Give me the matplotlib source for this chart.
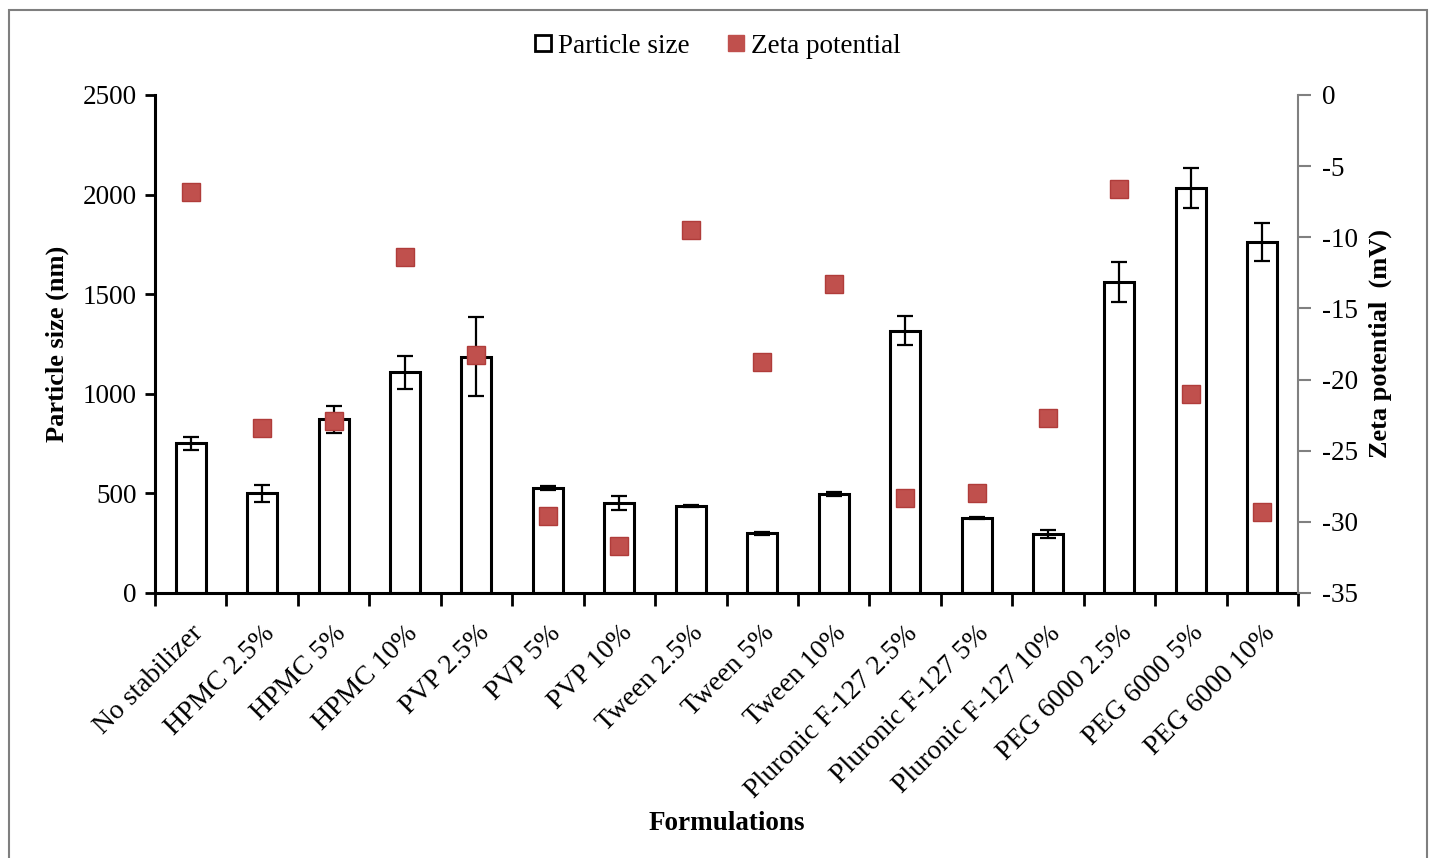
import matplotlib.pyplot as plt
import numpy as np
from matplotlib.lines import Line2D
from matplotlib.patches import Rectangle

plt.rcParams['font.family'] = ['Liberation Serif', 'DejaVu Serif']
plt.rcParams['axes.unicode_minus'] = False

formulations = ['No stabilizer', 'HPMC 2.5%', 'HPMC 5%', 'HPMC 10%',
                'PVP 2.5%', 'PVP 5%', 'PVP 10%', 'Tween 2.5%', 'Tween 5%',
                'Tween 10%', 'Pluronic F-127 2.5%', 'Pluronic F-127 5%',
                'Pluronic F-127 10%', 'PEG 6000 2.5%', 'PEG 6000 5%',
                'PEG 6000 10%']
size_nm = [751, 500, 872, 1108, 1187, 525, 453, 437, 300, 497, 1317, 375,
           296, 1561, 2031, 1761]
size_err = [32, 44, 67, 84, 196, 10, 35, 6, 7, 10, 74, 5, 22, 100, 100, 96]
zeta_mv = [-6.8, -23.4, -22.9, -11.4, -18.3, -29.6, -31.7, -9.5, -18.8,
           -13.3, -28.3, -28.0, -22.7, -6.6, -21.0, -29.3]

fig = plt.figure(figsize=(14.3, 8.58), dpi=100)
ax = fig.add_axes([0.1084, 0.3089, 0.7993, 0.5804])
ax2 = ax.twinx()

x = np.arange(len(formulations))
ax.bar(x, size_nm, width=0.42, color='white', edgecolor='black',
       linewidth=2.2, yerr=size_err, zorder=2,
       error_kw=dict(ecolor='black', elinewidth=1.6, capsize=6,
                     capthick=1.6))
ax2.plot(x, zeta_mv, 's', color='#C0504D', markeredgecolor='#B03C3A',
         markersize=13, zorder=3)

ax.set_xlim(-0.5, len(formulations) - 0.5)
ax.set_ylim(0, 2500)
ax.set_yticks(np.arange(0, 2501, 500))
ax2.set_ylim(-35, 0)
ax2.set_yticks(np.arange(-35, 1, 5))

ax.set_xticks(x)
ax.set_xticklabels(formulations, rotation=45, ha='right',
                   rotation_mode='anchor', fontsize=20)
ax.set_xticks(np.arange(-0.5, len(formulations)), minor=True)
ax.tick_params(axis='x', which='major', length=0, pad=20)
ax.tick_params(axis='x', which='minor', length=9, width=2, color='black',
               direction='out')
ax.tick_params(axis='y', length=7, width=2, direction='out', labelsize=19.5,
               pad=6)
ax2.tick_params(axis='y', length=9, width=1.5, color='#808080',
                direction='out', labelsize=19.5, pad=8)

for side in ['top', 'right']:
    ax.spines[side].set_visible(False)
ax2.spines['top'].set_visible(False)
ax2.spines['left'].set_visible(False)
ax2.spines['bottom'].set_visible(False)
ax2.spines['right'].set_color('#808080')
ax2.spines['right'].set_linewidth(1.5)
ax.spines['left'].set_linewidth(2.2)
ax.spines['bottom'].set_linewidth(2.2)

ax.set_ylabel('Particle size (nm)', fontsize=19, fontweight='bold',
              labelpad=10)
ax2.set_ylabel('Zeta potential  (mV)', fontsize=19, fontweight='bold',
               labelpad=8)
ax.set_xlabel('Formulations', fontsize=19.5, fontweight='bold')
ax.xaxis.set_label_coords(0.5, -0.438)

handles = [Line2D([], [], marker='s', linestyle='none', markersize=12,
                  markerfacecolor='white', markeredgecolor='black',
                  markeredgewidth=2),
           Line2D([], [], marker='s', linestyle='none', markersize=12,
                  markerfacecolor='#C0504D', markeredgecolor='#C0504D')]
fig.legend(handles, ['Particle size', 'Zeta potential'], loc='center',
           bbox_to_anchor=(0.5, 0.946), ncol=2, frameon=False, fontsize=19.5,
           handletextpad=0.05, columnspacing=1.2, handlelength=1.0)

fig.patches.append(Rectangle((9 / 1430, -0.05), 1418 / 1430,
                             1.05 - 10 / 858, transform=fig.transFigure,
                             fill=False, edgecolor='#7f7f7f', linewidth=1.5))

fig.savefig('out.png', dpi=100)
